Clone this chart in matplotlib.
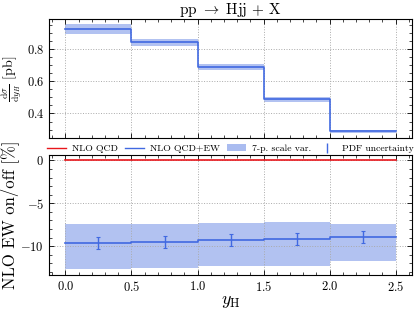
import numpy as np
import matplotlib
matplotlib.use("Agg")
import matplotlib.pyplot as plt
from matplotlib.lines import Line2D
from matplotlib.patches import Patch

plt.rcParams['font.family'] = 'serif'
plt.rcParams['font.serif'] = ['cmr10']
plt.rcParams['mathtext.fontset'] = 'cm'
plt.rcParams['axes.formatter.use_mathtext'] = True
plt.rcParams['axes.unicode_minus'] = True

# bin edges in y_H
edges = [0.0, 0.5, 1.0, 1.5, 2.0, 2.5]
centers = [0.25, 0.75, 1.25, 1.75, 2.25]

# top panel: dsigma/dy_H [pb], NLO QCD+EW
xs_central = [0.925, 0.845, 0.688, 0.489, 0.289]
xs_scale_up = [0.952, 0.864, 0.706, 0.500, 0.298]
xs_scale_dn = [0.892, 0.815, 0.669, 0.472, 0.281]

# bottom panel: NLO EW on/off [%]
qcd_ratio = [0.0, 0.0, 0.0, 0.0, 0.0]
ew_ratio = [-9.65, -9.46, -9.28, -9.14, -8.91]
ew_scale_up = [-7.46, -7.38, -7.27, -7.15, -7.42]
ew_scale_dn = [-12.70, -12.58, -12.27, -12.30, -11.68]
pdf_up = [-8.90, -8.79, -8.60, -8.44, -8.17]
pdf_dn = [-10.35, -10.24, -10.00, -9.80, -9.65]

blue = '#4169e1'
band = '#aabcf0'
red = '#e8161b'


def step(vals):
    return list(vals) + [vals[-1]]


fig = plt.figure(figsize=(4.15, 3.11), dpi=100)
ax1 = fig.add_axes([0.118, 0.556, 0.875, 0.383])
ax2 = fig.add_axes([0.118, 0.116, 0.875, 0.386], sharex=ax1)

# top
ax1.fill_between(edges, step(xs_scale_dn), step(xs_scale_up), step='post',
                 color=band, lw=0, alpha=0.9)
ax1.step(edges, step(xs_central), where='post', color=blue, lw=1.2)
ax1.set_title(r'$\mathrm{pp}\ \rightarrow\ \mathrm{Hjj}\,+\,\mathrm{X}$', fontsize=11, pad=3)
ax1.set_ylabel(r'$\frac{\mathrm{d}\sigma}{\mathrm{d}y_H}$ [pb]', fontsize=10, labelpad=2)
ax1.tick_params(labelbottom=False)

# bottom
ax2.fill_between(edges, step(ew_scale_dn), step(ew_scale_up), step='post',
                 color=band, lw=0, alpha=0.9)
ax2.step(edges, step(qcd_ratio), where='post', color=red, lw=1.2)
ax2.step(edges, step(ew_ratio), where='post', color=blue, lw=1.2)
ew = np.array(ew_ratio)
ax2.errorbar(centers, ew, yerr=[ew - np.array(pdf_dn), np.array(pdf_up) - ew],
             fmt='none', ecolor=blue, elinewidth=1.0, capsize=1.5, capthick=0.8)
ax2.set_ylabel('NLO EW on/off [%]', fontsize=12, labelpad=1)
ax2.set_xlabel(r'$y_\mathrm{H}$', fontsize=13, labelpad=0)
ax2.set_xticks([0.0, 0.5, 1.0, 1.5, 2.0, 2.5])
ax2.set_yticks([0, -5, -10])

for ax in (ax1, ax2):
    ax.minorticks_on()
    ax.tick_params(which='both', direction='in', top=True, right=True, labelsize=9)
    ax.tick_params(which='major', length=3.5, width=0.6)
    ax.tick_params(which='minor', length=2, width=0.5)
    ax.grid(True, which='major', ls=':', color='#aaaaaa', lw=0.7)
    for s in ax.spines.values():
        s.set_linewidth(0.8)

# legend row between the panels, one entry per small legend
handles = [Line2D([], [], color=red, lw=1),
           Line2D([], [], color=blue, lw=1),
           Patch(facecolor=band, edgecolor='none'),
           Line2D([], [], color=blue, lw=0, marker='|', markersize=7, markeredgewidth=1)]
labels = ['NLO QCD', 'NLO QCD+EW', '7-p. scale var.', 'PDF uncertainty']
starts = [-0.006, 0.209, 0.490, 0.738]
for i, (h, lab, x0) in enumerate(zip(handles, labels, starts)):
    leg = ax1.legend([h], [lab], loc='center left', bbox_to_anchor=(x0, -0.09),
                     frameon=False, fontsize=7.0, handlelength=2.0,
                     handletextpad=0.6, borderaxespad=0, borderpad=0)
    if i < len(handles) - 1:
        ax1.add_artist(leg)

fig.savefig('out.png', dpi=100)
